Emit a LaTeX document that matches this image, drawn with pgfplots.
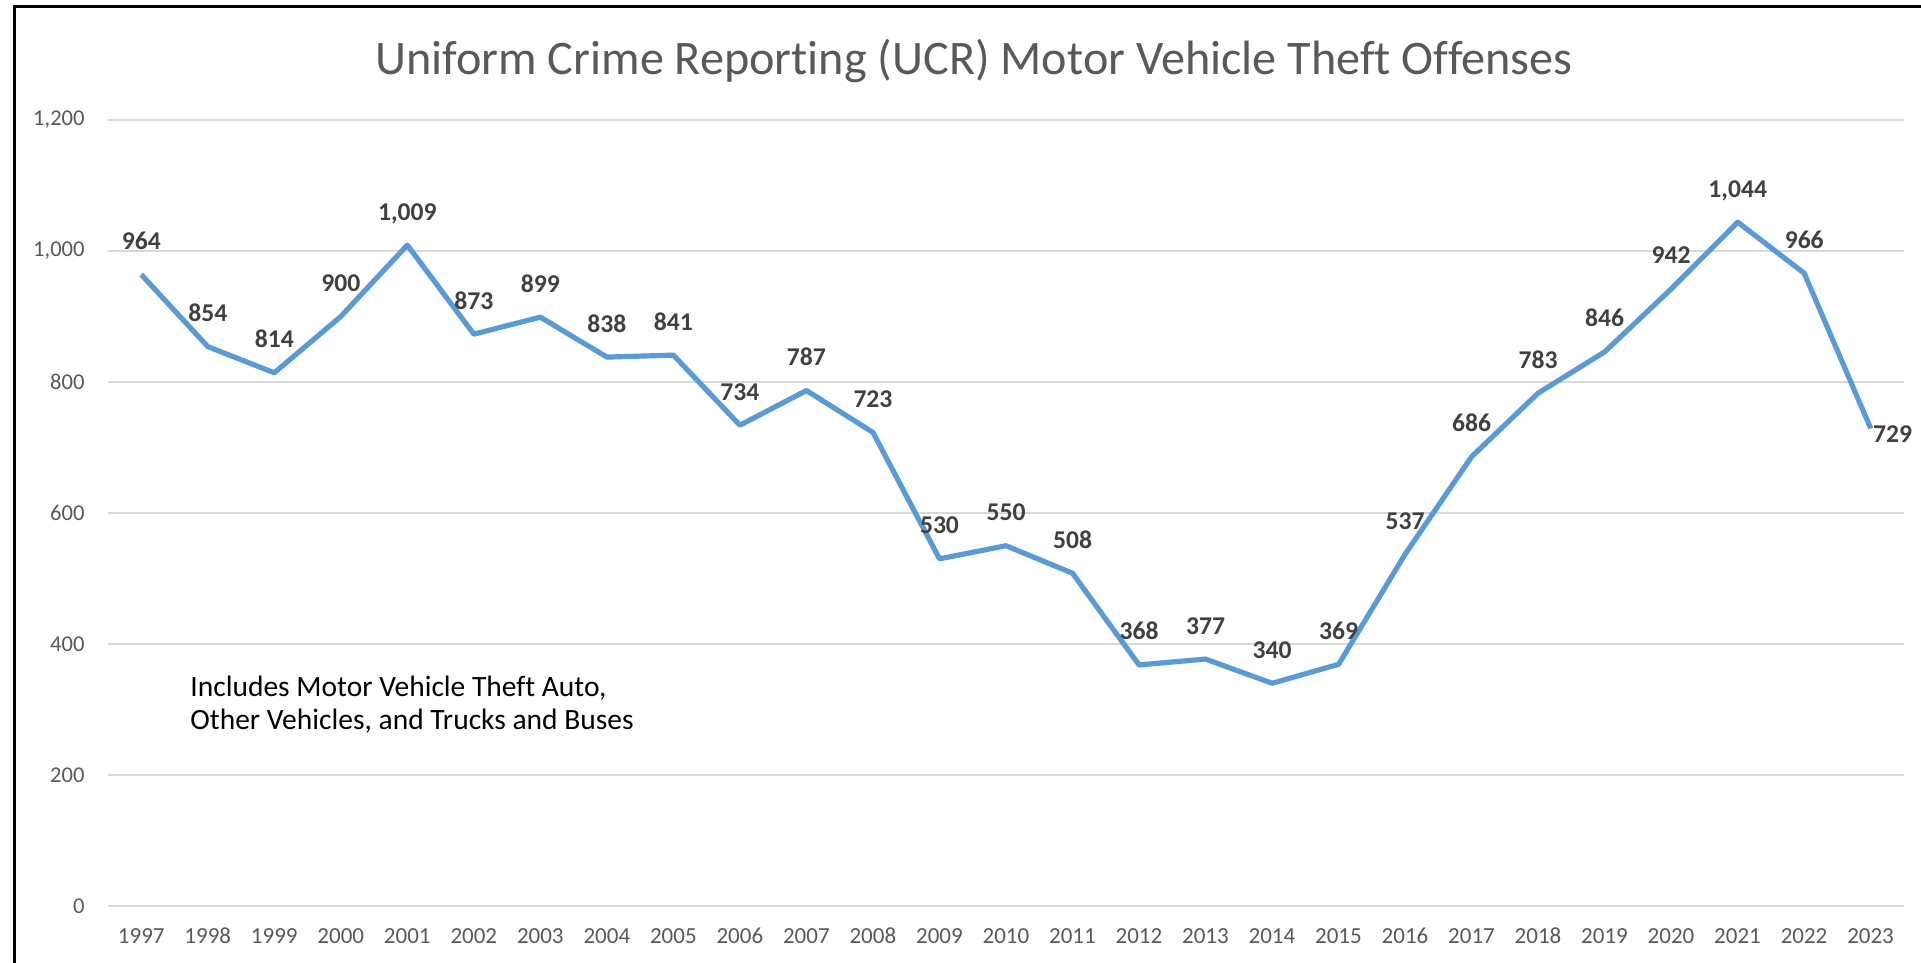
\documentclass[border=0pt]{standalone}
\usepackage{fontspec}
\setmainfont{Carlito}[Ligatures=NoCommon]
\usepackage{pgfplots}
\pgfplotsset{compat=1.18}
\definecolor{lineblue}{HTML}{5B9BD5}
\definecolor{gridgray}{HTML}{D9D9D9}
\definecolor{ticktext}{HTML}{595959}
\definecolor{labeltext}{HTML}{404040}

\pgfplotstableread{
year value
1997 964
1998 854
1999 814
2000 900
2001 1009
2002 873
2003 899
2004 838
2005 841
2006 734
2007 787
2008 723
2009 530
2010 550
2011 508
2012 368
2013 377
2014 340
2015 369
2016 537
2017 686
2018 783
2019 846
2020 942
2021 1044
2022 966
2023 729
}\theft

\begin{document}
\begin{tikzpicture}
% page frame, 1px = 0.5pt
\path[use as bounding box] (0,0) rectangle (960.5pt,481.5pt);
\draw[line width=1.5pt, line cap=rect] (7pt,0) -- (7pt,478pt) -- (961pt,478pt);
\node[anchor=base, font=\fontsize{24.1}{28}\selectfont, text=ticktext, inner sep=0pt]
  at (487pt,444pt) {Uniform Crime Reporting (UCR) Motor Vehicle Theft Offenses};

\begin{axis}[
  at={(54pt,28.5pt)}, anchor=south west,
  scale only axis,
  width=898pt, height=393pt,
  xmin=1996.5, xmax=2023.5,
  ymin=0, ymax=1200,
  xtick={1997,...,2023},
  ytick={0,200,...,1200},
  axis line style={draw=none},
  tick style={draw=none},
  ymajorgrids,
  major grid style={color=gridgray, line width=0.9pt},
  /pgf/number format/.cd, 1000 sep={,}, assume math mode=true, /pgfplots/.cd,
  xticklabel style={font=\fontsize{11.5}{13}\selectfont, text=ticktext,
    inner sep=0pt, anchor=base, yshift=-18.8pt,
    /pgf/number format/1000 sep={}},
  yticklabel style={font=\fontsize{11.3}{13}\selectfont, text=ticktext,
    inner sep=0pt, anchor=east, xshift=-11.5pt},
  clip=false,
]
  \addplot[lineblue, line width=2.6pt, line join=round, mark=none]
    table[x=year, y=value] {\theft};
  % data labels above each point except the last
  \addplot[draw=none, mark=none,
    nodes near coords,
    nodes near coords style={font=\fontsize{12.8}{14}\selectfont\bfseries,
      text=labeltext, anchor=base, inner sep=0pt, yshift=12.5pt}]
    table[x=year, y=value, restrict expr to domain={\thisrow{year}}{1997:2022}] {\theft};
  % last label to the right of its point
  \addplot[draw=none, mark=none,
    nodes near coords,
    nodes near coords style={font=\fontsize{12.8}{14}\selectfont\bfseries,
      text=labeltext, anchor=west, inner sep=0pt, xshift=1pt, yshift=-3pt}]
    coordinates {(2023,729)};
\end{axis}

\node[anchor=base west, align=left, inner sep=0pt,
  font=\fontsize{14.75}{16.7}\selectfont]
  at (95pt,116.5pt) {Includes Motor Vehicle Theft Auto,\\Other Vehicles, and Trucks and Buses};
\end{tikzpicture}
\end{document}
